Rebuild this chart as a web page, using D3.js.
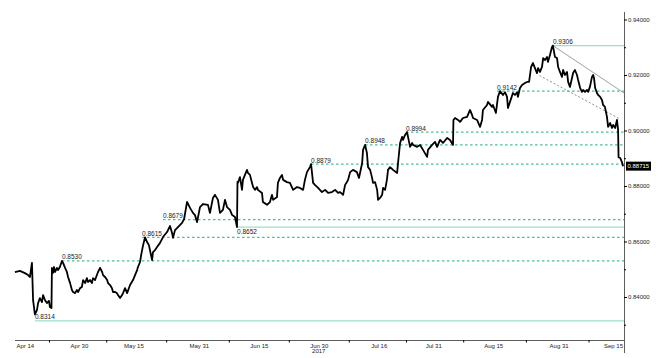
<!DOCTYPE html>
<html>
<head>
<meta charset="utf-8">
<script src="https://cdn.jsdelivr.net/npm/d3@7"></script>
<style>
body { margin: 0; background: #fff; }
svg text { font-family: "Liberation Sans", Arial, sans-serif; fill: #222; }
</style>
</head>
<body>
<svg id="chart" width="667" height="358"></svg>
<script>
// EUR/GBP, hourly-ish readings, Apr - Sep 2017
var times = ["2017-04-13 06","2017-04-14 04","2017-04-17 02","2017-04-17 16","2017-04-18 00","2017-04-18 09","2017-04-18 14","2017-04-18 22",
"2017-04-19 07","2017-04-19 12","2017-04-19 20","2017-04-20 05","2017-04-20 10","2017-04-20 18","2017-04-21 03","2017-04-21 12","2017-04-21 16","2017-04-21 23",
"2017-04-24 01","2017-04-24 06","2017-04-24 10","2017-04-24 15","2017-04-24 23","2017-04-25 04","2017-04-25 12","2017-04-25 21","2017-04-26 02","2017-04-26 11",
"2017-04-26 19","2017-04-27 00","2017-04-27 09","2017-04-27 17","2017-04-27 22","2017-04-28 07","2017-04-28 15","2017-04-28 20","2017-05-01 05","2017-05-01 13",
"2017-05-01 18","2017-05-02 03","2017-05-02 11","2017-05-02 16","2017-05-03 01","2017-05-03 09","2017-05-03 14","2017-05-03 23","2017-05-04 07","2017-05-04 12",
"2017-05-04 21","2017-05-05 06","2017-05-05 10","2017-05-05 19","2017-05-08 04","2017-05-08 08","2017-05-08 17","2017-05-09 01","2017-05-09 06","2017-05-09 15",
"2017-05-09 23","2017-05-10 04","2017-05-10 13","2017-05-10 22","2017-05-11 02","2017-05-11 11","2017-05-11 20","2017-05-12 09","2017-05-12 22","2017-05-15 16",
"2017-05-15 20","2017-05-16 05","2017-05-16 10","2017-05-16 18","2017-05-17 03","2017-05-17 12","2017-05-17 20","2017-05-18 10","2017-05-18 14","2017-05-18 23",
"2017-05-19 08","2017-05-19 21","2017-05-22 10","2017-05-23 04","2017-05-23 17","2017-05-24 02","2017-05-24 06","2017-05-24 15","2017-05-25 04","2017-05-25 22",
"2017-05-26 07","2017-05-26 20","2017-05-29 09","2017-05-29 22","2017-05-30 07","2017-05-30 16","2017-05-31 05","2017-05-31 18","2017-06-01 16","2017-06-02 01",
"2017-06-02 14","2017-06-02 23","2017-06-05 12","2017-06-05 21","2017-06-06 10","2017-06-06 19","2017-06-07 04","2017-06-07 17","2017-06-08 02","2017-06-08 15",
"2017-06-09 00","2017-06-09 02","2017-06-09 04","2017-06-09 13","2017-06-09 22","2017-06-12 02","2017-06-12 20","2017-06-13 00","2017-06-13 09","2017-06-13 18",
"2017-06-13 23","2017-06-14 07","2017-06-14 16","2017-06-14 20","2017-06-15 14","2017-06-15 18","2017-06-16 12","2017-06-19 01","2017-06-19 10","2017-06-19 15",
"2017-06-20 08","2017-06-20 12","2017-06-20 21","2017-06-21 06","2017-06-21 11","2017-06-22 04","2017-06-22 17","2017-06-23 07","2017-06-26 00","2017-06-26 13",
"2017-06-27 03","2017-06-27 11","2017-06-27 20","2017-06-28 09","2017-06-28 14","2017-06-28 23","2017-06-29 07","2017-06-29 21","2017-06-30 14","2017-07-03 04",
"2017-07-03 17","2017-07-04 10","2017-07-05 00","2017-07-05 13","2017-07-05 22","2017-07-06 11","2017-07-06 20","2017-07-07 04","2017-07-07 09","2017-07-07 18",
"2017-07-10 07","2017-07-11 00","2017-07-11 09","2017-07-11 23","2017-07-12 03","2017-07-12 12","2017-07-12 20","2017-07-13 01","2017-07-13 10","2017-07-13 18",
"2017-07-13 23","2017-07-14 08","2017-07-14 17","2017-07-14 21","2017-07-17 06","2017-07-17 15","2017-07-17 19","2017-07-18 04","2017-07-18 12","2017-07-18 17",
"2017-07-19 02","2017-07-19 15","2017-07-20 09","2017-07-20 13","2017-07-20 22","2017-07-21 07","2017-07-21 11","2017-07-21 20","2017-07-24 05","2017-07-24 09",
"2017-07-24 18","2017-07-25 03","2017-07-25 07","2017-07-26 01","2017-07-26 14","2017-07-27 03","2017-07-27 21","2017-07-28 01","2017-07-28 19","2017-07-31 08",
"2017-07-31 17","2017-08-01 06","2017-08-01 19","2017-08-02 13","2017-08-03 02","2017-08-03 15","2017-08-03 17","2017-08-04 00","2017-08-04 13","2017-08-04 22",
"2017-08-07 11","2017-08-08 05","2017-08-08 18","2017-08-09 03","2017-08-09 07","2017-08-10 01","2017-08-10 14","2017-08-10 23","2017-08-11 03","2017-08-11 21",
"2017-08-14 01","2017-08-14 19","2017-08-14 23","2017-08-15 12","2017-08-15 21","2017-08-16 06","2017-08-16 19","2017-08-17 04","2017-08-17 13","2017-08-17 17",
"2017-08-18 02","2017-08-18 15","2017-08-21 00","2017-08-21 09","2017-08-21 13","2017-08-21 22","2017-08-22 07","2017-08-22 20","2017-08-23 05","2017-08-23 14",
"2017-08-23 23","2017-08-24 07","2017-08-24 16","2017-08-25 01","2017-08-25 06","2017-08-25 14","2017-08-25 23","2017-08-28 04","2017-08-28 12","2017-08-28 21",
"2017-08-29 01","2017-08-29 10","2017-08-29 19","2017-08-29 23","2017-08-30 08","2017-08-30 17","2017-08-30 22","2017-08-31 06","2017-08-31 15","2017-08-31 20",
"2017-09-01 04","2017-09-01 13","2017-09-01 18","2017-09-04 02","2017-09-04 11","2017-09-04 16","2017-09-05 00","2017-09-05 09","2017-09-05 14","2017-09-05 23",
"2017-09-06 07","2017-09-06 12","2017-09-06 20","2017-09-07 05","2017-09-07 10","2017-09-07 18","2017-09-08 03","2017-09-08 08","2017-09-08 12","2017-09-08 17",
"2017-09-11 01","2017-09-11 06","2017-09-11 15","2017-09-11 23","2017-09-12 04","2017-09-12 12","2017-09-12 21","2017-09-13 02","2017-09-13 11","2017-09-13 19",
"2017-09-14 00","2017-09-14 09","2017-09-14 17","2017-09-14 22","2017-09-15 00","2017-09-15 07","2017-09-15 15","2017-09-15 20"];

var prices = [0.8490,0.8494,0.8486,0.8479,0.8472,0.8523,0.8389,0.8337,
0.8353,0.8378,0.8396,0.8382,0.8407,0.8389,0.8378,0.8386,0.8364,0.8360,
0.8505,0.8487,0.8508,0.8490,0.8505,0.8497,0.8508,0.8530,0.8523,0.8505,
0.8490,0.8472,0.8450,0.8425,0.8418,0.8414,0.8425,0.8418,0.8432,0.8436,
0.8461,0.8450,0.8468,0.8454,0.8461,0.8450,0.8468,0.8461,0.8479,0.8490,
0.8505,0.8490,0.8479,0.8472,0.8461,0.8450,0.8443,0.8432,0.8418,0.8418,
0.8414,0.8407,0.8396,0.8407,0.8414,0.8432,0.8414,0.8443,0.8461,0.8497,
0.8508,0.8526,0.8552,0.8585,0.8615,0.8598,0.8587,0.8533,0.8562,0.8569,
0.8580,0.8595,0.8616,0.8634,0.8656,0.8631,0.8613,0.8641,0.8652,0.8667,
0.8681,0.8743,0.8721,0.8703,0.8695,0.8670,0.8724,0.8735,0.8732,0.8703,
0.8757,0.8768,0.8750,0.8703,0.8714,0.8750,0.8724,0.8714,0.8696,0.8688,
0.8652,0.8815,0.8811,0.8832,0.8786,0.8822,0.8858,0.8847,0.8840,0.8811,
0.8796,0.8786,0.8796,0.8786,0.8775,0.8742,0.8732,0.8742,0.8768,0.8750,
0.8760,0.8811,0.8829,0.8840,0.8822,0.8814,0.8811,0.8786,0.8796,0.8793,
0.8786,0.8822,0.8850,0.8868,0.8879,0.8811,0.8804,0.8793,0.8778,0.8786,
0.8775,0.8778,0.8786,0.8775,0.8778,0.8768,0.8804,0.8814,0.8822,0.8850,
0.8858,0.8850,0.8829,0.8883,0.8930,0.8948,0.8919,0.8868,0.8858,0.8832,
0.8811,0.8814,0.8786,0.8750,0.8757,0.8768,0.8793,0.8786,0.8822,0.8858,
0.8868,0.8858,0.8847,0.8883,0.8955,0.8977,0.8966,0.8984,0.8994,0.8977,
0.8941,0.8955,0.8948,0.8941,0.8948,0.8930,0.8905,0.8930,0.8948,0.8959,
0.8941,0.8966,0.8955,0.8973,0.8966,0.8948,0.9038,0.9045,0.9038,0.9031,
0.9045,0.9049,0.9074,0.9056,0.9045,0.9038,0.9013,0.9038,0.9074,0.9092,
0.9103,0.9085,0.9092,0.9063,0.9121,0.9142,0.9128,0.9138,0.9121,0.9081,
0.9103,0.9135,0.9128,0.9138,0.9121,0.9153,0.9164,0.9171,0.9175,0.9175,
0.9229,0.9243,0.9225,0.9207,0.9225,0.9211,0.9229,0.9261,0.9254,0.9265,
0.9247,0.9272,0.9301,0.9306,0.9265,0.9261,0.9229,0.9211,0.9193,0.9218,
0.9200,0.9211,0.9175,0.9157,0.9189,0.9207,0.9218,0.9200,0.9182,0.9153,
0.9139,0.9146,0.9139,0.9146,0.9139,0.9157,0.9193,0.9200,0.9189,0.9153,
0.9135,0.9128,0.9121,0.9110,0.9092,0.9085,0.9049,0.9013,0.9027,0.9009,
0.9020,0.9009,0.9038,0.9002,0.8904,0.8901,0.8886,0.88715];

// support / resistance levels
var levelValues = [0.8314, 0.8530, 0.8615, 0.8679, 0.8652, 0.8879, 0.8948, 0.8994, 0.9142, 0.9306];
var levelStarts = ["2017-04-18 22","2017-04-25 21","2017-05-16 14","2017-05-22 10","2017-06-09 00",
                   "2017-06-28 14","2017-07-12 12","2017-07-24 00","2017-08-15 17","2017-08-29 23"];
var levelSolid = [true, false, false, false, true, false, false, false, false, true];

// trend lines: [start time, start value, end time, end value]
var trendSolid = ["2017-08-29 23", 0.9306, "2017-09-18 00", 0.9135];
var trendDashed = ["2017-08-25 12", 0.9198, "2017-09-15 07", 0.9041];

var tickDates = ["2017-04-14","2017-04-30","2017-05-15","2017-05-31","2017-06-15","2017-06-30",
                 "2017-07-16","2017-07-31","2017-08-15","2017-08-31","2017-09-15"];
var tickLabels = ["Apr 14","Apr 30","May 15","May 31","Jun 15","Jun 30","Jul 16","Jul 31","Aug 15","Aug 31","Sep 15"];
var yTicks = [0.84, 0.86, 0.88, 0.90, 0.92, 0.94];
var yMinor = [0.83, 0.85, 0.87, 0.89, 0.91, 0.93];
var lastPrice = 0.88715;

var svg = d3.select("#chart");
var parseT = d3.timeParse("%Y-%m-%d %H");
var parseD = d3.timeParse("%Y-%m-%d");
var t0 = new Date(2017, 3, 14);

function isWeekday(d) { var w = d.getDay(); return w > 0 && w < 6; }
// trading-day index (weekends removed)
function tIndex(d) {
    var day = d3.timeDay.floor(d);
    var frac = (d - day) / 864e5;
    if (!isWeekday(day)) { day = d3.timeMonday.ceil(day); frac = 0; }
    var n = day >= t0 ? d3.timeDay.range(t0, day).filter(isWeekday).length
                      : -d3.timeDay.range(day, t0).filter(isWeekday).length;
    return n + frac;
}

var x = d3.scaleLinear().domain([0, 111]).range([19, 624]);
var y = d3.scaleLinear().domain([0.8245, 0.9427]).range([340, 12]);
var xEnd = x.range()[1];

var data = times.map(function (t, i) { return { t: tIndex(parseT(t)), v: prices[i] }; });

// levels
levelValues.forEach(function (v, i) {
    var x0 = x(tIndex(parseT(levelStarts[i])));
    svg.append("line")
        .attr("x1", x0).attr("x2", xEnd)
        .attr("y1", y(v)).attr("y2", y(v))
        .attr("stroke", levelSolid[i] ? "#9edfc4" : "#45c09c")
        .attr("stroke-width", 1.2)
        .attr("stroke-dasharray", levelSolid[i] ? null : "2.5,2.5");
    var below = (v === 0.8652);
    svg.append("text")
        .attr("x", x0)
        .attr("y", below ? y(v) + 7 : y(v) - 1.5)
        .attr("font-size", "6.5px")
        .text(d3.format(".4f")(v));
});

// trend lines
svg.append("line")
    .attr("x1", x(tIndex(parseT(trendSolid[0])))).attr("y1", y(trendSolid[1]))
    .attr("x2", x(tIndex(parseT(trendSolid[2])))).attr("y2", y(trendSolid[3]))
    .attr("stroke", "#a0a0a0").attr("stroke-width", 1);
svg.append("line")
    .attr("x1", x(tIndex(parseT(trendDashed[0])))).attr("y1", y(trendDashed[1]))
    .attr("x2", x(tIndex(parseT(trendDashed[2])))).attr("y2", y(trendDashed[3]))
    .attr("stroke", "#909090").attr("stroke-width", 1).attr("stroke-dasharray", "2,2");

// price
var line = d3.line().x(function (d) { return x(d.t); }).y(function (d) { return y(d.v); });
svg.append("path")
    .datum(data)
    .attr("d", line)
    .attr("fill", "none")
    .attr("stroke", "#000")
    .attr("stroke-width", 1.8)
    .attr("stroke-linejoin", "round");

// x axis
var tickPos = tickDates.map(function (d) { return tIndex(parseD(d)); });
svg.append("line").attr("x1", 15).attr("x2", xEnd).attr("y1", 340.5).attr("y2", 340.5)
    .attr("stroke", "#333").attr("stroke-width", 0.8);
var xAxis = svg.append("g")
    .attr("transform", "translate(0,340)")
    .call(d3.axisBottom(x).tickValues(tickPos)
        .tickFormat(function (d, i) { return tickLabels[i]; })
        .tickSize(0).tickPadding(4));
xAxis.select(".domain").remove();
xAxis.selectAll("text").attr("font-size", "6px").attr("fill", "#222");
xAxis.selectAll("text").filter(function (d, i) { return i === 0; })
    .attr("text-anchor", "start").attr("x", -3);
xAxis.selectAll("text").filter(function (d, i) { return i === tickPos.length - 1; })
    .attr("text-anchor", "end").attr("x", 4);
var mids = tickPos.slice(1).map(function (d, i) { return (d + tickPos[i]) / 2; });
svg.append("g").attr("transform", "translate(0,340)")
    .call(d3.axisBottom(x).tickValues(mids).tickFormat("").tickSize(2.5))
    .select(".domain").remove();
svg.append("text")
    .attr("x", x(tickPos[5])).attr("y", 353)
    .attr("text-anchor", "middle").attr("font-size", "6px")
    .text("2017");

// y axis
svg.append("line").attr("x1", xEnd + 0.5).attr("x2", xEnd + 0.5).attr("y1", 12).attr("y2", 353)
    .attr("stroke", "#333").attr("stroke-width", 0.8);
var yAxis = svg.append("g")
    .attr("transform", "translate(" + xEnd + ",0)")
    .call(d3.axisRight(y).tickValues(yTicks).tickFormat(d3.format(".5f")).tickSize(3).tickPadding(1));
yAxis.select(".domain").remove();
yAxis.selectAll("text").attr("font-size", "6px").attr("fill", "#222");
svg.append("g")
    .attr("transform", "translate(" + xEnd + ",0)")
    .call(d3.axisRight(y).tickValues(yMinor).tickFormat("").tickSize(2))
    .select(".domain").remove();

// last price tag
var tag = svg.append("g").attr("transform", "translate(" + (xEnd + 2) + "," + y(lastPrice) + ")");
tag.append("rect").attr("x", 0).attr("y", -4.5).attr("width", 25).attr("height", 9).attr("fill", "#000");
tag.append("text").attr("x", 1.5).attr("y", 2.2).attr("font-size", "6px")
    .style("fill", "#fff").text(d3.format(".5f")(lastPrice));
</script>
</body>
</html>
